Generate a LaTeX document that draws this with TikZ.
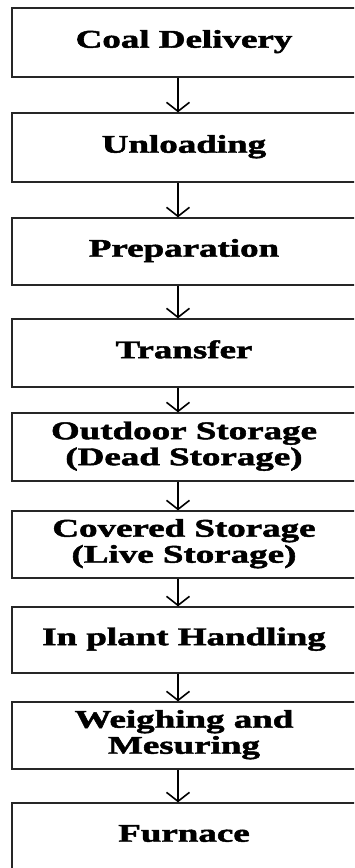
\documentclass[tikz,border=0pt]{standalone}
\usepackage{fontspec}
\setmainfont{Liberation Serif}[BoldFeatures={FakeBold=1.6}]
\usetikzlibrary{arrows.meta}
\newcommand{\bx}[1]{\scalebox{1.45}[1]{\bfseries\fontsize{25.5}{26}\selectfont\begin{tabular}{@{}c@{}}#1\end{tabular}}}
\tikzset{
  stepbox/.style={draw=black!85, line width=1.3pt, rectangle, minimum width=344pt, inner sep=0pt, anchor=center},
  flowarr/.style={draw=black, line width=2.2pt, -{Straight Barb[length=9pt,width=23pt,line width=1.6pt]}}
}
\begin{document}
\begin{tikzpicture}[x=1pt,y=1pt]
\useasboundingbox (0,0) rectangle (354,-868);
\clip (0,0) rectangle (354,-868);
\fill[white] (0,0) rectangle (354,-868);
\node[stepbox, minimum height=69pt] (n1) at (184,-42.5) {\bx{Coal Delivery}};
\node[stepbox, minimum height=69pt] (n2) at (184,-147.5) {\bx{Unloading}};
\node[stepbox, minimum height=67pt] (n3) at (184,-251.5) {\bx{Preparation}};
\node[stepbox, minimum height=68pt] (n4) at (184,-353) {\bx{Transfer}};
\node[stepbox, minimum height=68pt] (n5) at (184,-447) {\bx{Outdoor Storage\\(Dead Storage)}};
\node[stepbox, minimum height=67pt] (n6) at (184,-544.5) {\bx{Covered Storage\\(Live Storage)}};
\node[stepbox, minimum height=66pt] (n7) at (184,-640) {\bx{In plant Handling}};
\node[stepbox, minimum height=67pt] (n8) at (184,-735.5) {\bx{Weighing and\\Mesuring}};
\node[stepbox, minimum height=67pt] (n9) at (184,-836.5) {\bx{Furnace}};
\foreach \a/\b in {n1/n2,n2/n3,n3/n4,n4/n5,n5/n6,n6/n7,n7/n8,n8/n9}
  \draw[flowarr] ([xshift=-6pt]\a.south) -- ([xshift=-6pt]\b.north);
\end{tikzpicture}
\end{document}
